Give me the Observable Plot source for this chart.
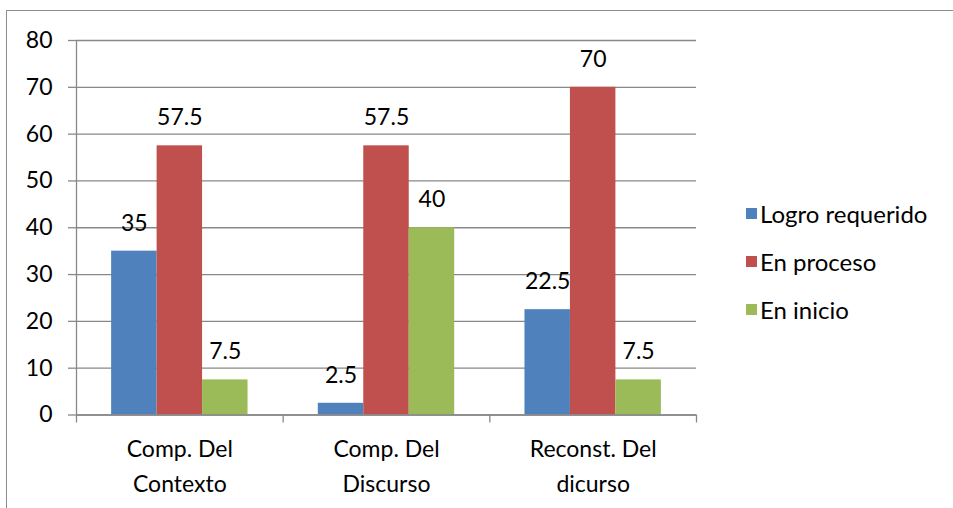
<!DOCTYPE html>
<html>
<head>
<meta charset="utf-8">
<script src="https://cdn.jsdelivr.net/npm/d3@7"></script>
<script src="https://cdn.jsdelivr.net/npm/@observablehq/plot@0.6"></script>
<style>
  html, body { margin: 0; padding: 0; background: #fff; }
  #wrap { position: relative; width: 953px; height: 508px; overflow: hidden; font-family: Lato, "Open Sans", sans-serif; }
  #border { position: absolute; left: 6px; top: 10px; width: 1000px; height: 600px; border-left: 1.5px solid #8c8c8c; border-top: 1.5px solid #8c8c8c; }
  #chart { position: absolute; left: 0; top: 0; }
  #legend { position: absolute; left: 746px; top: 189px; }
  .row { display: flex; align-items: center; height: 48px; font-size: 24px; color: #000; }
  .sw { width: 11px; height: 11px; margin-right: 3px; }
</style>
</head>
<body>
<div id="wrap">
  <div id="border"></div>
  <div id="chart"></div>
  <div id="legend"></div>
</div>
<script>
const categories = ["Comp. Del\nContexto", "Comp. Del\nDiscurso", "Reconst. Del\ndicurso"];
const series = ["Logro requerido", "En proceso", "En inicio"];
const logroRequerido = [35, 2.5, 22.5];
const enProceso = [57.5, 57.5, 70];
const enInicio = [7.5, 40, 7.5];
const yTicks = [0, 10, 20, 30, 40, 50, 60, 70, 80];
const colors = ["#4F81BD", "#C0504D", "#9BBB59"];

const seriesValues = [logroRequerido, enProceso, enInicio];
const rows = [];
categories.forEach((c, ci) => {
  series.forEach((s, si) => {
    rows.push({ci, si, category: c, series: s, value: seriesValues[si][ci]});
  });
});

const PAD = 0.17, BW = 0.22;
const boundaries = categories.map((_, i) => i).concat([categories.length]);
const centers = categories.map((_, i) => i + 0.5);

const plot = Plot.plot({
  width: 953,
  height: 508,
  marginLeft: 76,
  marginRight: 257,
  marginTop: 40,
  marginBottom: 93.5,
  style: {fontFamily: "Lato, 'Open Sans', sans-serif", fontSize: "23px", color: "#000", background: "transparent"},
  x: {type: "linear", domain: [0, categories.length]},
  y: {domain: [0, 80]},
  color: {domain: series, range: colors},
  marks: [
    Plot.gridY(yTicks, {stroke: "#888", strokeOpacity: 1, strokeWidth: 1.3}),
    Plot.rectY(rows, {
      x1: d => d.ci + PAD + d.si * BW,
      x2: d => d.ci + PAD + (d.si + 1) * BW,
      y1: 0,
      y2: "value",
      fill: "series"
    }),
    Plot.ruleX([0], {stroke: "#888", strokeWidth: 1.3}),
    Plot.ruleY([0], {stroke: "#888", strokeWidth: 1.3}),
    Plot.axisY(yTicks, {label: null, tickSize: 8, tickPadding: 16, stroke: "#888", strokeWidth: 1.3, color: "#000", fill: "#000", fontSize: 23}),
    Plot.axisX(boundaries, {label: null, tickSize: 8, stroke: "#888", strokeWidth: 1.3, tickFormat: () => ""}),
    Plot.axisX(centers, {label: null, tickSize: 0, tickPadding: 18, lineHeight: 1.5, fill: "#000", fontSize: 23,
      tickFormat: d => categories[Math.floor(d)]}),
    Plot.text(rows, {
      x: d => d.ci + PAD + (d.si + 0.5) * BW,
      y: "value",
      text: d => String(d.value),
      dy: -28,
      fontSize: 23,
      fill: "#000"
    })
  ]
});
document.getElementById("chart").appendChild(plot);

const legend = document.getElementById("legend");
series.forEach((s, i) => {
  const row = document.createElement("div");
  row.className = "row";
  const sw = document.createElement("div");
  sw.className = "sw";
  sw.style.background = colors[i];
  const t = document.createElement("span");
  t.textContent = s;
  row.appendChild(sw);
  row.appendChild(t);
  legend.appendChild(row);
});
</script>
</body>
</html>
